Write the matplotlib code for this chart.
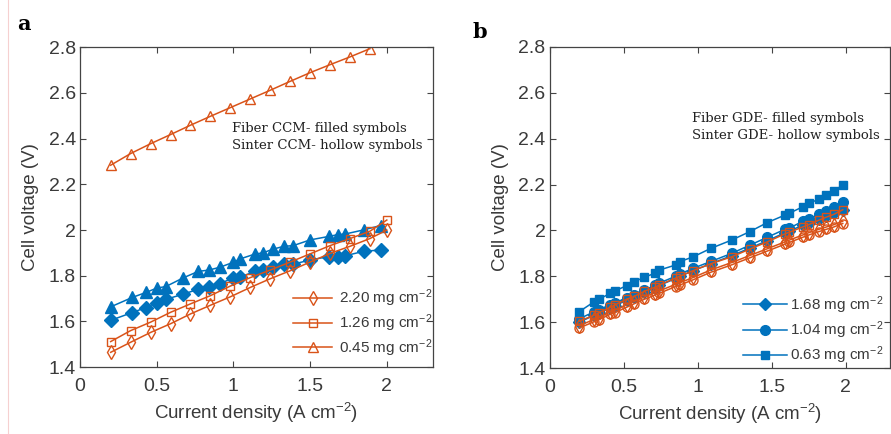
import numpy as np
import matplotlib.pyplot as plt
from matplotlib.lines import Line2D

# MATLAB default colours
BLUE = "#0072BD"
ORANGE = "#D95319"

# ---- panel a: CCM ----
x_sinter_a = [0.20, 0.33, 0.46, 0.59, 0.72, 0.85, 0.98, 1.11, 1.24, 1.37, 1.50, 1.63, 1.76, 1.89, 2.00]
v_sinter_220 = [1.465, 1.509, 1.552, 1.590, 1.633, 1.671, 1.708, 1.749, 1.787, 1.822, 1.860, 1.898, 1.929, 1.963, 2.000]
v_sinter_126 = [1.512, 1.560, 1.597, 1.640, 1.677, 1.713, 1.755, 1.792, 1.825, 1.860, 1.896, 1.932, 1.963, 1.995, 2.044]
x_sinter_045 = x_sinter_a[:14]
v_sinter_045 = [2.284, 2.335, 2.378, 2.418, 2.459, 2.498, 2.536, 2.574, 2.612, 2.651, 2.689, 2.724, 2.758, 2.794]

x_fiber_a = [0.20, 0.34, 0.43, 0.50, 0.56, 0.67, 0.77, 0.84, 0.91, 1.00, 1.04, 1.14, 1.19, 1.26,
             1.33, 1.39, 1.50, 1.62, 1.68, 1.73, 1.85, 1.96]
v_fiber_diam = [1.605, 1.639, 1.661, 1.683, 1.697, 1.719, 1.741, 1.752, 1.766, 1.790, 1.793, 1.819,
                1.825, 1.837, 1.851, 1.851, 1.869, 1.884, 1.881, 1.888, 1.907, 1.913]
v_fiber_tri = [1.664, 1.705, 1.727, 1.746, 1.753, 1.790, 1.819, 1.825, 1.837, 1.859, 1.873, 1.895,
               1.900, 1.917, 1.929, 1.932, 1.957, 1.972, 1.980, 1.983, 2.001, 2.020]

# ---- panel b: GDE ----
x_b = [0.20, 0.30, 0.33, 0.41, 0.44, 0.52, 0.57, 0.64, 0.71, 0.74, 0.85, 0.88, 0.97, 1.09, 1.23,
       1.35, 1.47, 1.59, 1.62, 1.71, 1.75, 1.82, 1.87, 1.92, 1.98]
v_fiber_063 = [1.646, 1.689, 1.699, 1.726, 1.736, 1.759, 1.776, 1.796, 1.813, 1.827, 1.849, 1.864, 1.885,
               1.922, 1.958, 1.994, 2.034, 2.067, 2.075, 2.103, 2.118, 2.136, 2.154, 2.172, 2.198]
v_fiber_104 = [1.615, 1.645, 1.655, 1.675, 1.685, 1.705, 1.720, 1.740, 1.760, 1.770, 1.800, 1.810, 1.835,
               1.865, 1.900, 1.935, 1.970, 2.005, 2.010, 2.040, 2.050, 2.070, 2.085, 2.100, 2.125]
v_fiber_168 = [1.600, 1.630, 1.640, 1.662, 1.672, 1.695, 1.710, 1.730, 1.750, 1.760, 1.790, 1.800, 1.825,
               1.855, 1.890, 1.922, 1.955, 1.990, 1.998, 2.022, 2.032, 2.050, 2.062, 2.075, 2.090]
v_sinter_sq = [1.605, 1.630, 1.640, 1.665, 1.675, 1.700, 1.712, 1.735, 1.752, 1.762, 1.792, 1.800, 1.825,
               1.855, 1.885, 1.918, 1.950, 1.985, 1.992, 2.015, 2.025, 2.045, 2.058, 2.070, 2.090]
v_sinter_di = [1.585, 1.612, 1.620, 1.645, 1.652, 1.675, 1.690, 1.710, 1.728, 1.736, 1.765, 1.772, 1.795,
               1.828, 1.860, 1.890, 1.920, 1.950, 1.958, 1.980, 1.990, 2.005, 2.015, 2.025, 2.040]
v_sinter_ci = [1.575, 1.602, 1.610, 1.635, 1.642, 1.665, 1.680, 1.700, 1.718, 1.726, 1.755, 1.762, 1.785,
               1.818, 1.850, 1.880, 1.910, 1.940, 1.948, 1.970, 1.980, 1.995, 2.005, 2.015, 2.030]

xticks = [0, 0.5, 1, 1.5, 2]
xtick_labels = ["0", "0.5", "1", "1.5", "2"]
yticks = [1.4, 1.6, 1.8, 2.0, 2.2, 2.4, 2.6, 2.8]
ytick_labels = ["1.4", "1.6", "1.8", "2", "2.2", "2.4", "2.6", "2.8"]

plt.rcParams["font.family"] = ["Liberation Sans", "DejaVu Sans"]
plt.rcParams["mathtext.fontset"] = "custom"
plt.rcParams["mathtext.rm"] = "Liberation Sans"
plt.rcParams["mathtext.it"] = "Liberation Sans:italic"
TXT = "#3a3a3a"

fig = plt.figure(figsize=(8.91, 4.34), dpi=100)
ax1 = fig.add_axes([0.0898, 0.154, 0.396, 0.737])
ax2 = fig.add_axes([0.617, 0.152, 0.382, 0.740])


def style(ax):
    ax.set_xlim(0, 2.3)
    ax.set_ylim(1.4, 2.8)
    ax.set_xticks(xticks)
    ax.set_xticklabels(xtick_labels)
    ax.set_yticks(yticks)
    ax.set_yticklabels(ytick_labels)
    ax.tick_params(direction="in", top=True, right=True, length=4, width=0.8,
                   labelsize=14, colors="#444444", labelcolor=TXT)
    ax.tick_params(axis="x", pad=8)
    ax.tick_params(axis="y", pad=3)
    for s in ax.spines.values():
        s.set_color("#444444")
        s.set_linewidth(0.9)
    ax.set_xlabel("Current density (A cm$^{-2}$)", fontsize=13.5, color=TXT, labelpad=4)
    ax.set_ylabel("Cell voltage (V)", fontsize=13.5, color=TXT, labelpad=7)


hollow = dict(markerfacecolor="none", markeredgewidth=1.0, color=ORANGE, lw=1.1)
filled = dict(color=BLUE, lw=1.1)

# panel a
ax1.plot(x_fiber_a, v_fiber_diam, marker="D", ms=7, **filled)
ax1.plot(x_fiber_a, v_fiber_tri, marker="^", ms=8.5, **filled)
l1, = ax1.plot(x_sinter_a, v_sinter_220, marker="d", ms=7.5, label="2.20 mg cm$^{-2}$", **hollow)
l2, = ax1.plot(x_sinter_a, v_sinter_126, marker="s", ms=5.5, label="1.26 mg cm$^{-2}$", **hollow)
l3, = ax1.plot(x_sinter_045, v_sinter_045, marker="^", ms=7.5, label="0.45 mg cm$^{-2}$", **hollow)
style(ax1)
ax1.legend(handles=[l1, l2, l3], loc="center left", bbox_to_anchor=(0.603, 0.1375), frameon=False,
           fontsize=11, handlelength=2.6, labelspacing=0.2, handletextpad=0.45,
           borderpad=0, borderaxespad=0, labelcolor=TXT)
ax1.text(0.43, 0.72, "Fiber CCM- filled symbols\nSinter CCM- hollow symbols", transform=ax1.transAxes,
         family="DejaVu Serif", fontsize=9.5, linespacing=1.4, color="#222222", va="center")

# panel b
b1, = ax2.plot(x_b, v_fiber_168, marker="D", ms=6, label="1.68 mg cm$^{-2}$", **filled)
b2, = ax2.plot(x_b, v_fiber_104, marker="o", ms=7, label="1.04 mg cm$^{-2}$", **filled)
b3, = ax2.plot(x_b, v_fiber_063, marker="s", ms=6, label="0.63 mg cm$^{-2}$", **filled)
ax2.plot(x_b, v_sinter_sq, marker="s", ms=6, **hollow)
ax2.plot(x_b, v_sinter_di, marker="d", ms=7, **hollow)
ax2.plot(x_b, v_sinter_ci, marker="o", ms=6.5, **hollow)
style(ax2)
ax2.legend(handles=[b1, b2, b3], loc="center left", bbox_to_anchor=(0.568, 0.118), frameon=False,
           fontsize=11, handlelength=2.9, labelspacing=0.25, handletextpad=0.2,
           borderpad=0, borderaxespad=0, labelcolor=TXT)
ax2.text(0.418, 0.75, "Fiber GDE- filled symbols\nSinter GDE- hollow symbols", transform=ax2.transAxes,
         family="DejaVu Serif", fontsize=9.5, linespacing=1.4, color="#222222", va="center")

fig.text(0.019, 0.93, "a", family="DejaVu Serif", fontweight="bold", fontsize=15)
fig.text(0.530, 0.912, "b", family="DejaVu Serif", fontweight="bold", fontsize=15)
fig.add_artist(Line2D([0.009, 0.009], [0.0, 1.0], color="#f6d0d0", lw=0.8))

fig.savefig("out.png", dpi=100)
